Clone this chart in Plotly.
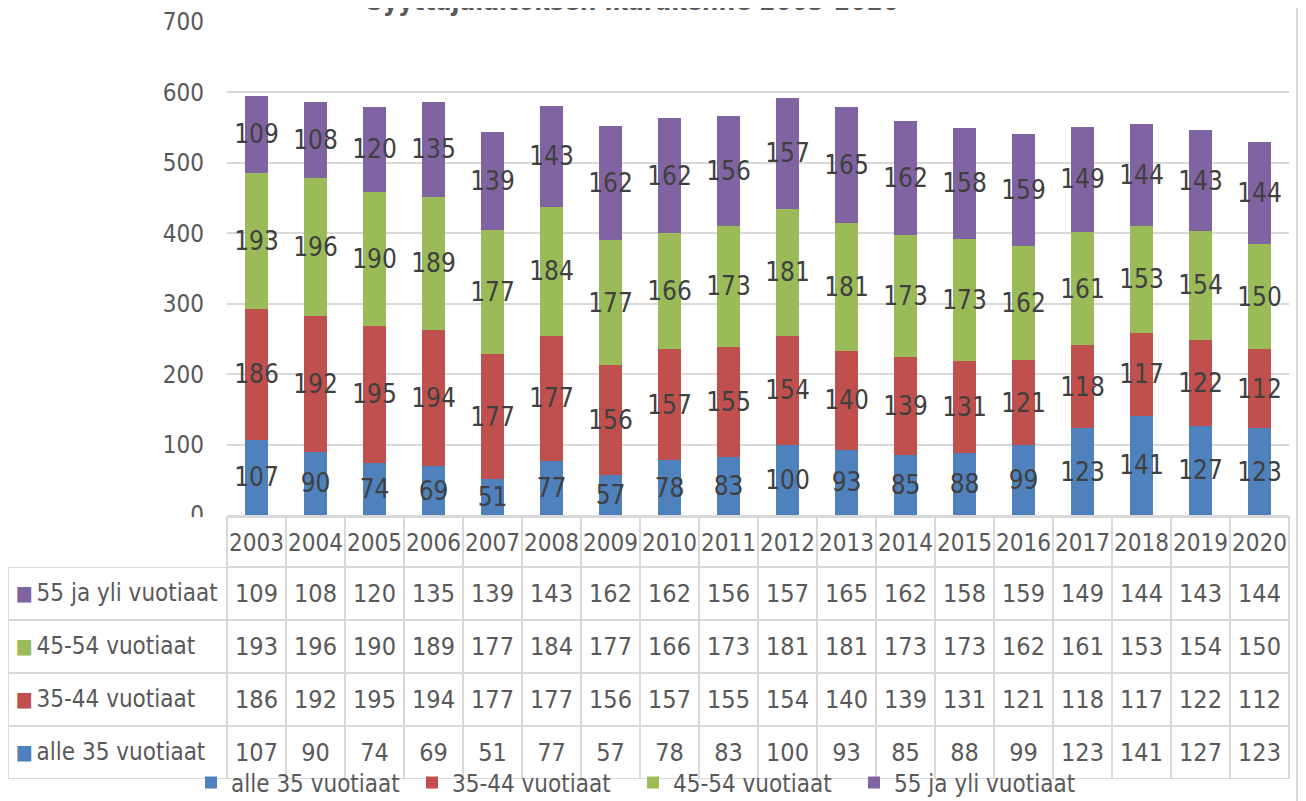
import plotly.graph_objects as go

W, H = 1306, 801
OFF = 8  # the page puts the figure 8px in from the top-left corner

years = [str(y) for y in range(2003, 2021)]
alle35 = [107, 90, 74, 69, 51, 77, 57, 78, 83, 100, 93, 85, 88, 99, 123, 141, 127, 123]
v35_44 = [186, 192, 195, 194, 177, 177, 156, 157, 155, 154, 140, 139, 131, 121, 118, 117, 122, 112]
v45_54 = [193, 196, 190, 189, 177, 184, 177, 166, 173, 181, 181, 173, 173, 162, 161, 153, 154, 150]
yli55 = [109, 108, 120, 135, 139, 143, 162, 162, 156, 157, 165, 162, 158, 159, 149, 144, 143, 144]

series = [
    ("alle 35 vuotiaat", alle35, "#4F81BD"),
    ("35-44 vuotiaat", v35_44, "#C0504D"),
    ("45-54 vuotiaat", v45_54, "#9BBB59"),
    ("55 ja yli vuotiaat", yli55, "#8064A2"),
]

FONT = "Liberation Sans Narrow, DejaVu Sans Condensed, Roboto Condensed, Open Sans, sans-serif"
GRID = "#d9d9d9"
TXT = "#595959"
NB = "\u00a0"
CLEAR = "rgba(0,0,0,0)"


def px_x(p):
    return (p - OFF) / W


def px_y(p):
    return (H - (p - OFF)) / H


fig = go.Figure()
for name, vals, color in series:
    fig.add_trace(
        go.Bar(
            x=years,
            y=vals,
            name=name,
            marker={"color": color, "line": {"width": 0}},
            text=vals,
            textposition="inside",
            insidetextanchor="middle",
            textangle=0,
            constraintext="none",
            textfont={"family": FONT, "size": 26, "color": "#404040"},
        )
    )

# data table below the chart (rows top-down: purple, green, red, blue)
table_rows = list(reversed(series))
labels = [NB * 3 + n.replace(" ", NB) for n, _, _ in table_rows]
columns = [labels] + [[vals[i] for _, vals, _ in table_rows] for i in range(len(years))]
col_widths = [219] + [59] * len(years)


def data_table(top, bottom, text_color, line_color, header_line, fill):
    return go.Table(
        domain={"x": [px_x(8), px_x(1289)], "y": [px_y(bottom), px_y(top)]},
        columnwidth=col_widths,
        header={
            "values": [""] + years,
            "height": 50,
            "fill": {"color": fill},
            "line": {"color": header_line, "width": 2},
            "align": "center",
            "font": {"family": FONT, "size": 24, "color": text_color},
        },
        cells={
            "values": columns,
            "height": 53,
            "fill": {"color": fill},
            "line": {"color": line_color, "width": 2},
            "align": ["left"] + ["center"] * len(years),
            "font": {"family": FONT, "size": [24] + [25] * len(years), "color": text_color},
        },
    )


# grid of the table, then its text a few pixels lower (plotly puts cell text near the top)
fig.add_trace(data_table(517, 779, CLEAR, GRID, [CLEAR] + [GRID] * len(years), "white"))
fig.add_trace(data_table(525, 787, TXT, CLEAR, CLEAR, CLEAR))

# coloured keys in front of the row labels
fig.add_trace(
    go.Table(
        domain={"x": [px_x(8), px_x(40)], "y": [px_y(789), px_y(527)]},
        columnwidth=[1],
        header={
            "values": [""],
            "height": 50,
            "fill": {"color": CLEAR},
            "line": {"color": CLEAR, "width": 0},
        },
        cells={
            "values": [["■"] * len(table_rows)],
            "height": 53,
            "fill": {"color": CLEAR},
            "line": {"color": CLEAR, "width": 0},
            "align": "center",
            "font": {"family": FONT, "size": 20, "color": [[c for _, _, c in table_rows]]},
        },
    )
)

fig.update_layout(
    width=W,
    height=H,
    barmode="stack",
    bargap=0.6,
    plot_bgcolor="white",
    paper_bgcolor="white",
    margin={"l": 0, "r": 0, "t": 0, "b": 0, "pad": 0, "autoexpand": False},
    font={"family": FONT, "color": TXT},
    xaxis={
        "domain": [px_x(227), px_x(1289)],
        "showticklabels": False,
        "showgrid": False,
        "showline": True,
        "linecolor": GRID,
        "linewidth": 2,
        "ticks": "",
        "automargin": False,
    },
    yaxis={
        "domain": [px_y(515), px_y(22)],
        "range": [0, 700],
        "dtick": 100,
        "gridcolor": GRID,
        "gridwidth": 2,
        "zeroline": False,
        "tickfont": {"size": 24, "color": TXT},
        "ticklabelstandoff": 22,
        "automargin": False,
    },
    legend={
        "orientation": "h",
        "x": px_x(191),
        "xanchor": "left",
        "y": px_y(783),
        "yanchor": "middle",
        "entrywidth": 176,
        "font": {"size": 24, "color": TXT},
        "bgcolor": CLEAR,
        "traceorder": "normal",
    },
    showlegend=True,
)

# chart title, mostly cut off at the top edge of the picture
fig.add_annotation(
    text="<b>Syyttäjälaitoksen ikärakenne 2003-2020</b>",
    xref="paper",
    yref="paper",
    x=px_x(632),
    y=1,
    yanchor="bottom",
    yshift=-10,
    showarrow=False,
    font={"size": 26, "color": TXT},
)

# right border of the chart area
fig.add_shape(
    type="line",
    xref="paper",
    yref="paper",
    x0=px_x(1297),
    x1=px_x(1297),
    y0=0,
    y1=1,
    line={"color": GRID, "width": 2},
)

fig.write_html("out.html")
